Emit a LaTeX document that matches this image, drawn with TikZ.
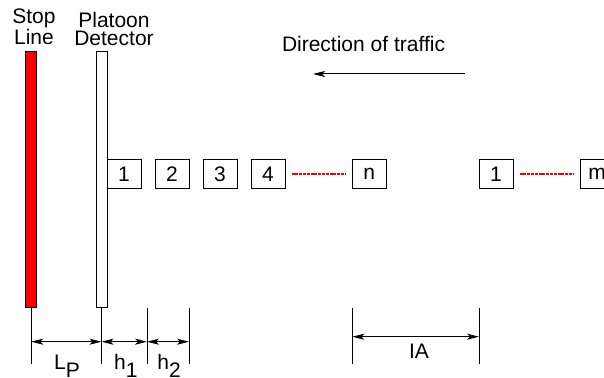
\documentclass[tikz,border=0pt]{standalone}
\usepackage{fontspec}
\setmainfont{Liberation Sans}
\usetikzlibrary{arrows.meta}
\newcommand{\dimsub}[1]{\raisebox{-3.7pt}{#1}}
\tikzset{
  txt/.style={inner sep=0pt, font=\fontsize{10.5}{8.8}\selectfont},
  bar/.style={draw, line width=0.5pt, inner sep=0pt, minimum width=5.5pt, minimum height=128pt},
  car/.style={txt, draw, line width=0.5pt, minimum width=17pt, minimum height=14.5pt},
  platoongap/.style={line width=0.8pt, dash pattern=on 1.5pt off 0.4pt, shorten <=3pt, shorten >=3pt},
  dim/.style={{Stealth[length=6pt,width=3pt,inset=1.5pt]}-{Stealth[length=6pt,width=3pt,inset=1.5pt]}, line width=0.5pt},
  ext/.style={line width=0.5pt}
}
\begin{document}
\begin{tikzpicture}[x=0.5pt,y=-0.5pt]
\useasboundingbox (0,0) rectangle (604,378);
\clip (0,0) rectangle (604,378);
% stop line and detector
\node[bar, fill=red] (stop) at (31.2,180) {};
\node[bar, fill=white] (det) at (101.5,180) {};
\node[txt, align=center] (stoplbl) at (34,26.7) {Stop\\Line};
\node[txt, align=center] (detlbl) at (114,28.8) {Platoon\\Detector};
% direction of traffic
\node[txt, anchor=base] (dir) at (363.5,52) {Direction of traffic};
\coordinate (dirA) at (465,74);
\coordinate (dirB) at (313,74);
\draw[-{Stealth[length=6pt,width=3pt,inset=1.5pt]}, line width=0.5pt] (dirA) -- (dirB);
% first platoon
\foreach \i in {1,...,4}
  \node[car] (c\i) at ({124+48*(\i-1)},173.8) {\i};
\node[car] (cn) at (369.3,173.8) {n};
\draw[red, platoongap] (c4.east) -- (cn.west);
% second platoon
\node[car] (d1) at (496,173.8) {1};
\node[car] (dm) at (597,173.8) {m};
\draw[red, platoongap] (d1.east) -- (dm.west);
% dimensions
\foreach \x in {31.2,101.5,147,189,352.3,479}
  \draw[ext] (\x,308) -- (\x,364);
\coordinate (p0) at (31.2,341.7);
\coordinate (p1) at (101.5,341.7);
\coordinate (p2) at (147,341.7);
\coordinate (p3) at (189,341.7);
\coordinate (q0) at (352.3,336.7);
\coordinate (q1) at (479,336.7);
\draw[dim] (p0) -- (p1);
\draw[dim] (p1) -- (p2);
\draw[dim] (p2) -- (p3);
\draw[dim] (q0) -- (q1);
\node[txt, anchor=base] (lp) at (67,370) {L\dimsub{P}};
\node[txt, anchor=base] (h1) at (125.8,370) {h\dimsub{1}};
\node[txt, anchor=base] (h2) at (169,370) {h\dimsub{2}};
\node[txt, anchor=base] (ia) at (419,358.3) {IA};
\end{tikzpicture}
\end{document}
